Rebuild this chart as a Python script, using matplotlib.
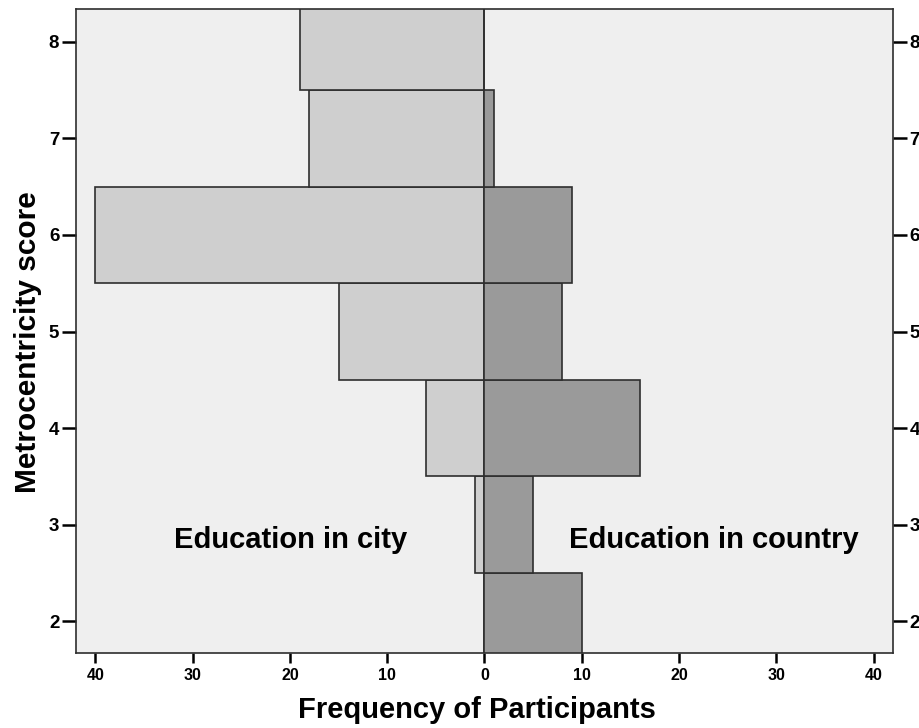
import numpy as np
import matplotlib.pyplot as plt

# metrocentricity score bins and participant counts
scores = [2, 3, 4, 5, 6, 7, 8]
city = [0, 1, 6, 15, 40, 18, 19]
country = [10, 5, 16, 8, 9, 1, 0]
x_ticks = [-40, -30, -20, -10, 0, 10, 20, 30, 40]
y_ticks = [2, 3, 4, 5, 6, 7, 8]

plt.rcParams['font.family'] = ['Liberation Sans', 'DejaVu Sans']

fig = plt.figure(figsize=(9.2, 7.28), dpi=100)
ax = fig.add_axes([0.0826, 0.103, 0.888, 0.8846])
ax.set_facecolor('#efefef')

# city bars go to the left, country bars to the right
ax.barh(scores, [-c for c in city], height=1.0, color='#cfcfcf',
        edgecolor='#2e2e2e', linewidth=1.2)
ax.barh(scores, country, height=1.0, color='#9a9a9a',
        edgecolor='#2e2e2e', linewidth=1.2)

ax.set_xlim(-42, 42)
ax.set_ylim(1.67, 8.34)
ax.set_xticks(x_ticks)
ax.set_xticklabels([str(abs(t)) for t in x_ticks], fontsize=11.5, fontweight='bold')
ax.set_yticks(y_ticks)
ax.set_yticklabels([str(t) for t in y_ticks], fontsize=13.5, fontweight='bold')
ax.tick_params(axis='x', direction='out', length=7, width=1.8, pad=4)
ax.tick_params(axis='y', direction='out', length=10, width=1.8, pad=2,
               right=True, labelright=True)

for s in ax.spines.values():
    s.set_color('#2e2e2e')
    s.set_linewidth(1.2)

ax.text(-19.9, 2.84, 'Education in city', fontsize=21, fontweight='bold',
        ha='center', va='center')
ax.text(23.6, 2.84, 'Education in country', fontsize=21, fontweight='bold',
        ha='center', va='center')

ax.set_xlabel('Frequency of Participants', fontsize=21, fontweight='bold')
ax.set_ylabel('Metrocentricity score', fontsize=21.5, fontweight='bold')
ax.xaxis.set_label_coords(0.491, -0.067)
ax.yaxis.set_label_coords(-0.042, 0.483)

fig.savefig('out.png', dpi=100)
